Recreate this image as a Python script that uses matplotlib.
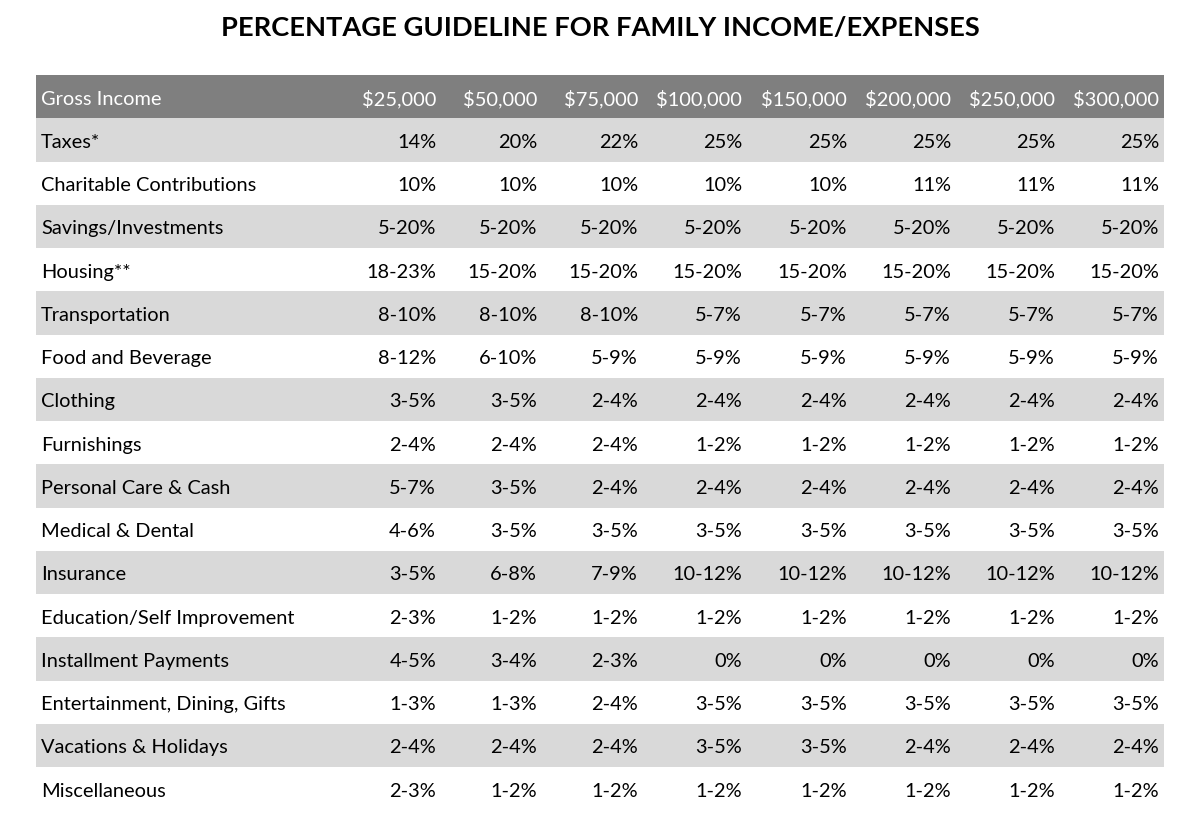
import matplotlib.pyplot as plt
from matplotlib.patches import Rectangle

# data
title = "PERCENTAGE GUIDELINE FOR FAMILY INCOME/EXPENSES"
income = ["$25,000", "$50,000", "$75,000", "$100,000", "$150,000", "$200,000", "$250,000", "$300,000"]
categories = ["Taxes*", "Charitable Contributions", "Savings/Investments", "Housing**",
              "Transportation", "Food and Beverage", "Clothing", "Furnishings",
              "Personal Care & Cash", "Medical & Dental", "Insurance",
              "Education/Self Improvement", "Installment Payments",
              "Entertainment, Dining, Gifts", "Vacations & Holidays", "Miscellaneous"]
taxes = ["14%", "20%", "22%", "25%", "25%", "25%", "25%", "25%"]
charity = ["10%", "10%", "10%", "10%", "10%", "11%", "11%", "11%"]
savings = ["5-20%"] * 8
housing = ["18-23%"] + ["15-20%"] * 7
transport = ["8-10%", "8-10%", "8-10%", "5-7%", "5-7%", "5-7%", "5-7%", "5-7%"]
food = ["8-12%", "6-10%", "5-9%", "5-9%", "5-9%", "5-9%", "5-9%", "5-9%"]
clothing = ["3-5%", "3-5%", "2-4%", "2-4%", "2-4%", "2-4%", "2-4%", "2-4%"]
furnish = ["2-4%", "2-4%", "2-4%", "1-2%", "1-2%", "1-2%", "1-2%", "1-2%"]
personal = ["5-7%", "3-5%", "2-4%", "2-4%", "2-4%", "2-4%", "2-4%", "2-4%"]
medical = ["4-6%", "3-5%", "3-5%", "3-5%", "3-5%", "3-5%", "3-5%", "3-5%"]
insurance = ["3-5%", "6-8%", "7-9%", "10-12%", "10-12%", "10-12%", "10-12%", "10-12%"]
education = ["2-3%", "1-2%", "1-2%", "1-2%", "1-2%", "1-2%", "1-2%", "1-2%"]
installment = ["4-5%", "3-4%", "2-3%", "0%", "0%", "0%", "0%", "0%"]
entertain = ["1-3%", "1-3%", "2-4%", "3-5%", "3-5%", "3-5%", "3-5%", "3-5%"]
vacations = ["2-4%", "2-4%", "2-4%", "3-5%", "3-5%", "2-4%", "2-4%", "2-4%"]
misc = ["2-3%", "1-2%", "1-2%", "1-2%", "1-2%", "1-2%", "1-2%", "1-2%"]
values = [taxes, charity, savings, housing, transport, food, clothing, furnish,
          personal, medical, insurance, education, installment, entertain, vacations, misc]

# layout (pixels)
W, H = 1201, 831
left, right = 36, 1164
top = 75
row_h = 43.25
col_right = [436, 537, 638, 742, 847, 951, 1055, 1159]
font = "Lato"
fs = 14.4
dy = 2.5

fig = plt.figure(figsize=(W / 100, H / 100), dpi=100)
ax = fig.add_axes([0, 0, 1, 1])
ax.set_xlim(0, W)
ax.set_ylim(H, 0)
ax.axis("off")

ax.text(W / 2, 28, title, ha="center", va="center", fontsize=19.6,
        fontweight="bold", family=font)

# header
ax.add_patch(Rectangle((left, top), right - left, row_h, color="#7f7f7f", lw=0))
yc = top + row_h / 2 + dy
ax.text(left + 5, yc, "Gross Income", ha="left", va="center", color="white",
        fontsize=fs, family=font)
for x, lab in zip(col_right, income):
    ax.text(x, yc, lab, ha="right", va="center", color="white", fontsize=fs, family=font)

for i, (cat, vals) in enumerate(zip(categories, values)):
    y0 = top + row_h * (i + 1)
    if i % 2 == 0:
        ax.add_patch(Rectangle((left, y0), right - left, row_h, color="#d9d9d9", lw=0))
    yc = y0 + row_h / 2 + dy
    ax.text(left + 5, yc, cat, ha="left", va="center", color="black",
            fontsize=fs, family=font)
    for x, v in zip(col_right, vals):
        ax.text(x, yc, v, ha="right", va="center", color="black", fontsize=fs, family=font)

fig.savefig("out.png", dpi=100)
